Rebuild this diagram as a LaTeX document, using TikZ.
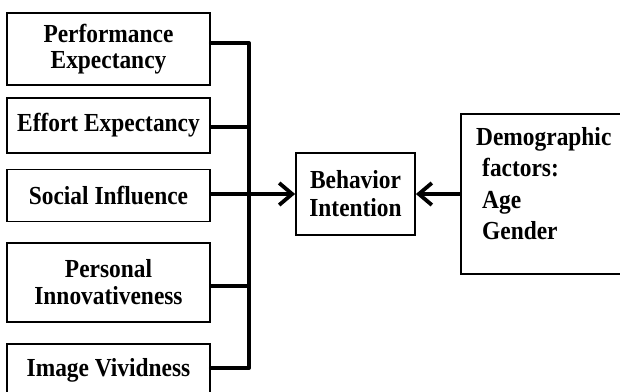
\documentclass[tikz,border=0pt]{standalone}
\usepackage{fontspec}
\setmainfont[FakeStretch=0.9]{Liberation Serif}
\usetikzlibrary{arrows.meta}
\begin{document}
\begin{tikzpicture}[x=1pt,y=-1pt,
  box/.style={draw, line width=1.8pt, rectangle, inner sep=0pt, minimum width=203pt,
    font=\bfseries\fontsize{26}{26}\selectfont, align=center},
  conn/.style={line width=4pt},
  arr/.style={line width=4pt, -{Straight Barb[length=13pt,width=22pt,line width=3.8pt]}}]
\useasboundingbox (0,0) rectangle (620,391);
\clip (0,0) rectangle (620,391);
\node[box, minimum height=72pt] (pe) at (108.5,49) {Performance\\Expectancy};
\node[box, minimum height=55pt] (ee) at (108.5,125.5) {Effort Expectancy};
\node[box, minimum height=52pt] (si) at (108.5,195.5) {Social Influence};
\node[box, minimum height=79pt] (pi) at (108.5,282.5) {Personal\\[1pt]Innovativeness};
\node[box, minimum height=52pt] (iv) at (108.5,370) {Image Vividness};
\node[box, minimum width=119pt, minimum height=82pt] (bi) at (355.5,194) {Behavior\\[2pt]Intention};
\node[draw, line width=1.8pt, minimum width=166pt, minimum height=160pt, inner sep=0pt] (dm) at (544,194) {};
\node[anchor=north west, inner sep=0pt, align=left, font=\bfseries\fontsize{26}{31.5}\selectfont] (dt) at (476,127)
  {Demographic\\\hspace*{6pt}factors:\\\hspace*{6pt}Age\\\hspace*{6pt}Gender};
\coordinate (bt) at (249,43);
\coordinate (bb) at (249,368);
\draw[conn, line cap=round, line join=round] ([yshift=6pt]pe.east) -- (bt) -- (bb) -- ([yshift=2pt]iv.east);
\draw[conn] ([yshift=-1.5pt]ee.east) -- ([yshift=-1.5pt]ee.east -| bt);
\draw[conn] ([yshift=-3.5pt]pi.east) -- ([yshift=-3.5pt]pi.east -| bt);
\draw[arr] ([yshift=1.5pt]si.east) -- (bi.west);
\draw[arr] (dm.west) -- (bi.east);
\end{tikzpicture}
\end{document}
